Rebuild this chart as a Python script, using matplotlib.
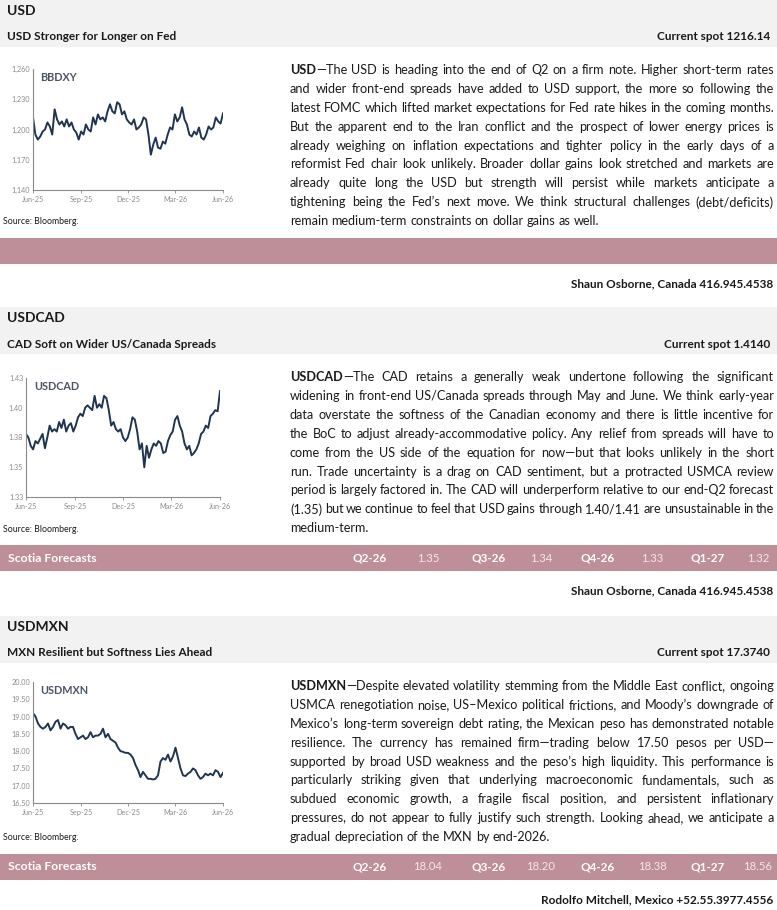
import numpy as np
import pandas as pd
import matplotlib
matplotlib.use("Agg")
import matplotlib.pyplot as plt
from matplotlib.patches import Rectangle

W, H = 777, 910
plt.rcParams['font.family'] = ['Lato', 'DejaVu Sans']

# ---- data ----
bbdxy = [1212, 1195, 1190, 1193, 1198, 1200, 1207, 1203, 1195, 1220, 1210, 1205, 1208, 1203,
         1210, 1203, 1207, 1200, 1197, 1190, 1198, 1195, 1205, 1200, 1198, 1212, 1205, 1215,
         1210, 1212, 1208, 1218, 1225, 1218, 1216, 1227, 1225, 1215, 1218, 1210, 1207, 1205,
         1210, 1200, 1202, 1205, 1212, 1210, 1195, 1175, 1185, 1192, 1182, 1181, 1188, 1186,
         1195, 1202, 1200, 1215, 1208, 1212, 1222, 1210, 1205, 1195, 1193, 1198, 1195, 1202,
         1192, 1190, 1195, 1203, 1200, 1202, 1212, 1208, 1206, 1216]
usdcad = [1.378, 1.375, 1.368, 1.365, 1.372, 1.370, 1.374, 1.378, 1.366, 1.375, 1.385, 1.380,
          1.382, 1.380, 1.388, 1.383, 1.390, 1.380, 1.385, 1.387, 1.380, 1.385, 1.392, 1.395,
          1.393, 1.400, 1.402, 1.400, 1.398, 1.410, 1.400, 1.403, 1.400, 1.410, 1.408, 1.398,
          1.385, 1.388, 1.382, 1.380, 1.382, 1.375, 1.372, 1.375, 1.382, 1.392, 1.390, 1.380,
          1.365, 1.370, 1.350, 1.368, 1.358, 1.365, 1.370, 1.368, 1.372, 1.370, 1.362, 1.363,
          1.372, 1.377, 1.380, 1.390, 1.393, 1.385, 1.380, 1.370, 1.365, 1.368, 1.360, 1.362,
          1.365, 1.370, 1.378, 1.380, 1.385, 1.383, 1.393, 1.395, 1.398, 1.397, 1.414]
usdmxn = [19.1, 19.0, 18.8, 18.7, 18.65, 18.7, 18.8, 18.6, 18.7, 18.85, 18.9, 18.65, 18.8,
          18.75, 18.65, 18.7, 18.7, 18.5, 18.35, 18.4, 18.45, 18.35, 18.4, 18.55, 18.4, 18.45,
          18.45, 18.5, 18.65, 18.4, 18.5, 18.35, 18.3, 18.25, 18.1, 18.0, 17.98, 17.95, 17.95,
          17.9, 17.8, 17.6, 17.45, 17.25, 17.4, 17.3, 17.2, 17.2, 17.18, 17.2, 17.3, 17.7, 17.8,
          17.75, 17.9, 17.7, 17.85, 18.1, 17.8, 17.5, 17.3, 17.28, 17.35, 17.4, 17.5, 17.45,
          17.3, 17.2, 17.25, 17.35, 17.3, 17.35, 17.3, 17.45, 17.4, 17.25, 17.37]
month_ticks = ['2025-06-15', '2025-09-15', '2025-12-15', '2026-03-15', '2026-06-15']
month_labels = ['Jun-25', 'Sep-25', 'Dec-25', 'Mar-26', 'Jun-26']
quarters = ['Q2-26', 'Q3-26', 'Q4-26', 'Q1-27']
cad_fc = ['1.35', '1.34', '1.33', '1.32']
mxn_fc = ['18.04', '18.20', '18.38', '18.56']

text_usd = [
    "USD—The USD is heading into the end of Q2 on a firm note. Higher short-term rates",
    "and wider front-end spreads have added to USD support, the more so following the",
    "latest FOMC which lifted market expectations for Fed rate hikes in the coming months.",
    "But the apparent end to the Iran conflict and the prospect of lower energy prices is",
    "already weighing on inflation expectations and tighter policy in the early days of a",
    "reformist Fed chair look unlikely. Broader dollar gains look stretched and markets are",
    "already quite long the USD but strength will persist while markets anticipate a",
    "tightening being the Fed’s next move. We think structural challenges (debt/deficits)",
    "remain medium-term constraints on dollar gains as well."]
text_cad = [
    "USDCAD—The CAD retains a generally weak undertone following the significant",
    "widening in front-end US/Canada spreads through May and June. We think early-year",
    "data overstate the softness of the Canadian economy and there is little incentive for",
    "the BoC to adjust already-accommodative policy. Any relief from spreads will have to",
    "come from the US side of the equation for now—but that looks unlikely in the short",
    "run. Trade uncertainty is a drag on CAD sentiment, but a protracted USMCA review",
    "period is largely factored in. The CAD will underperform relative to our end-Q2 forecast",
    "(1.35) but we continue to feel that USD gains through 1.40/1.41 are unsustainable in the",
    "medium-term."]
text_mxn = [
    "USDMXN—Despite elevated volatility stemming from the Middle East conflict, ongoing",
    "USMCA renegotiation noise, US–Mexico political frictions, and Moody’s downgrade of",
    "Mexico’s long-term sovereign debt rating, the Mexican peso has demonstrated notable",
    "resilience. The currency has remained firm—trading below 17.50 pesos per USD—",
    "supported by broad USD weakness and the peso’s high liquidity. This performance is",
    "particularly striking given that underlying macroeconomic fundamentals, such as",
    "subdued economic growth, a fragile fiscal position, and persistent inflationary",
    "pressures, do not appear to fully justify such strength. Looking ahead, we anticipate a",
    "gradual depreciation of the MXN by end-2026."]

fig = plt.figure(figsize=(W / 100, H / 100), dpi=100)
fig.patch.set_facecolor('white')
rend = fig.canvas.get_renderer()

BAR = '#bf8f99'
GREY = '#f1f2f1'
INK = '#1a1a1a'


def fx(x):
    return x / W


def fy(y):
    return 1 - y / H


def rect(x0, y0, x1, y1, color):
    fig.add_artist(Rectangle((fx(x0), fy(y1)), fx(x1 - x0), (y1 - y0) / H,
                             transform=fig.transFigure, color=color, lw=0, zorder=0))


def txt(x, y, s, **kw):
    kw.setdefault('color', INK)
    kw.setdefault('va', 'center')
    return fig.text(fx(x), fy(y), s, **kw)


def width(s, **kw):
    t = fig.text(0, 0, s, **kw)
    w = t.get_window_extent(rend).width
    t.remove()
    return w


def paragraph(lines, bold_word, x0, x1, y0, dy, size=9.1):
    for i, line in enumerate(lines):
        words = line.split(' ')
        segs = []
        for j, w in enumerate(words):
            if i == 0 and j == 0:
                segs.append([(bold_word, 'bold'), (w[len(bold_word):], 'normal')])
            else:
                segs.append([(w, 'normal')])
        widths = [sum(width(s, fontsize=size, fontweight=b) for s, b in sg) for sg in segs]
        gap = width('a b', fontsize=size) - width('ab', fontsize=size)
        if i < len(lines) - 1 and len(segs) > 1:
            gap = (x1 - x0 - sum(widths)) / (len(segs) - 1)
        x = x0
        y = y0 + i * dy
        for sg, wd in zip(segs, widths):
            xx = x
            for s, b in sg:
                txt(xx, y, s, fontsize=size, fontweight=b)
                xx += width(s, fontsize=size, fontweight=b)
            x += wd + gap


def mini_chart(box, values, yticks, ylabels, name):
    x0, y0, x1, y1 = box
    ax = fig.add_axes([fx(x0), fy(y1), fx(x1 - x0), (y1 - y0) / H])
    dates = pd.date_range('2025-06-15', '2026-06-15', periods=len(values))
    ax.plot(dates, values, color='#1f3550', lw=1.4)
    ax.set_xlim(pd.Timestamp('2025-06-15'), pd.Timestamp('2026-06-15'))
    ax.set_ylim(yticks[0], yticks[-1])
    ax.set_yticks(yticks)
    ax.set_yticklabels(ylabels)
    ax.set_xticks(pd.to_datetime(month_ticks))
    ax.set_xticklabels(month_labels)
    for s in ['top', 'right']:
        ax.spines[s].set_visible(False)
    for s in ['left', 'bottom']:
        ax.spines[s].set_color('#8a8a8a')
        ax.spines[s].set_linewidth(0.8)
    ax.tick_params(labelsize=5.2, colors='#8a8a8a', length=2.5, width=0.6, pad=2)
    ax.tick_params(axis='y', length=0)
    ax.text(0.04, 0.93, name, transform=ax.transAxes, fontsize=7.8, fontweight='bold',
            color='#4a5563', va='center')
    ax.set_facecolor('none')


def section(top, title, subtitle, spot, lines, bold_word, box, values, yticks, ylabels,
            name, forecasts, author):
    rect(0, top, W, top + 47, GREY)
    txt(7, top + 11, title, fontsize=10, fontweight='bold')
    txt(7, top + 37, subtitle, fontsize=8.5, fontweight='bold')
    txt(770, top + 37, spot, fontsize=8.5, fontweight='bold', ha='right')
    mini_chart(box, values, yticks, ylabels, name)
    txt(3, top + 222, 'Source: Bloomberg.', fontsize=6.3)
    paragraph(lines, bold_word, 290, 774, top + 70, 18.9)
    rect(0, top + 238, W, top + 264, BAR)
    if forecasts:
        txt(8, top + 251, 'Scotia Forecasts', fontsize=8.8, fontweight='bold', color='white')
        for q, v, qx, vx in zip(quarters, forecasts, [370, 489, 598, 708], [428, 541, 652, 758]):
            txt(qx, top + 251, q, fontsize=8.5, fontweight='bold', color='white', ha='center')
            txt(vx, top + 251, v, fontsize=8.2, color='#f4e6e9', ha='center')
    txt(773, top + 284, author, fontsize=8.5, fontweight='bold', ha='right')


section(0, 'USD', 'USD Stronger for Longer on Fed', 'Current spot 1216.14', text_usd, 'USD',
        (33, 69, 223, 190), bbdxy, [1140, 1170, 1200, 1230, 1260],
        ['1,140', '1,170', '1,200', '1,230', '1,260'], 'BBDXY', None,
        'Shaun Osborne, Canada 416.945.4538')
section(307, 'USDCAD', 'CAD Soft on Wider US/Canada Spreads', 'Current spot 1.4140', text_cad,
        'USDCAD', (26, 378, 220, 497), usdcad, [1.325, 1.35, 1.375, 1.40, 1.425],
        ['1.33', '1.35', '1.38', '1.40', '1.43'], 'USDCAD', cad_fc,
        'Shaun Osborne, Canada 416.945.4538')
section(616, 'USDMXN', 'MXN Resilient but Softness Lies Ahead', 'Current spot 17.3740', text_mxn,
        'USDMXN', (33, 682, 223, 803), usdmxn, [16.5, 17.0, 17.5, 18.0, 18.5, 19.0, 19.5, 20.0],
        ['16.50', '17.00', '17.50', '18.00', '18.50', '19.00', '19.50', '20.00'], 'USDMXN', mxn_fc,
        'Rodolfo Mitchell, Mexico +52.55.3977.4556')

fig.savefig('out.png', dpi=100)
